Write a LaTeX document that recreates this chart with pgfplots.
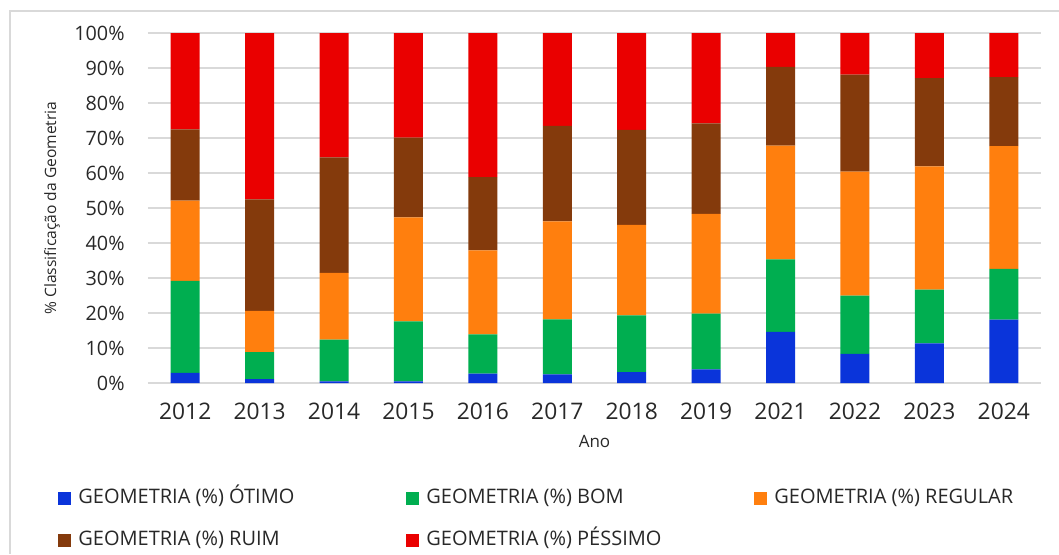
\documentclass[border=0pt]{standalone}
\usepackage{fontspec}
\setmainfont{Open Sans}
\usepackage{pgfplots}
\usepackage{pgfplotstable}
\pgfplotsset{compat=1.18}

\definecolor{cOtimo}{RGB}{10,52,218}
\definecolor{cBom}{RGB}{0,174,80}
\definecolor{cRegular}{RGB}{255,127,14}
\definecolor{cRuim}{RGB}{132,58,12}
\definecolor{cPessimo}{RGB}{234,0,0}
\definecolor{gridc}{RGB}{217,217,217}
\definecolor{txt}{RGB}{40,40,40}

% ano (indice) e percentuais por classe
\pgfplotstableread{
x otimo bom regular ruim pessimo
0  2.9 26.3 22.9 20.4 27.5
1  1.1  7.7 11.8 31.9 47.5
2  0.5 11.9 19.1 33.0 35.5
3  0.5 17.1 29.7 22.8 29.9
4  2.7 11.2 24.0 20.9 41.2
5  2.5 15.7 28.0 27.3 26.5
6  3.1 16.2 25.9 27.1 27.7
7  3.9 15.9 28.5 25.9 25.8
8 14.6 20.7 32.5 22.5  9.7
9  8.3 16.7 35.4 27.7 11.9
10 11.3 15.4 35.2 25.2 12.9
11 18.1 14.5 35.1 19.7 12.6
}\dados

\newcommand{\lbox}[1]{\makebox[164pt][l]{#1}}

\begin{document}
\begin{tikzpicture}
\begin{axis}[
    at={(74pt,85.5pt)}, anchor=south west,
    width=446.5pt, height=175pt, scale only axis,
    ybar stacked, bar width=14.5pt,
    xmin=-0.5, xmax=11.5,
    ymin=0, ymax=100,
    xtick=data,
    xticklabels={2012,2013,2014,2015,2016,2017,2018,2019,2021,2022,2023,2024},
    ytick={0,10,...,100},
    yticklabel={\pgfmathprintnumber{\tick}\%},
    /pgf/number format/assume math mode=true,
    ymajorgrids, grid style={gridc, line width=0.6pt},
    axis x line*=bottom, axis y line*=left,
    x axis line style={gridc, line width=0.6pt},
    y axis line style={draw=none},
    major tick length=0pt,
    tick label style={text=txt},
    xticklabel style={font=\fontsize{11.4}{12}\selectfont, anchor=center, yshift=-14pt},
    yticklabel style={font=\fontsize{9.9}{11}\selectfont, anchor=east, inner sep=0pt, xshift=-11.5pt},
    xlabel={Ano},
    ylabel={\% Classificação da Geometria},
    every axis x label/.style={at={(axis description cs:0.5,-0.1657)}, anchor=center,
        font=\fontsize{8.5}{10}\selectfont, text=txt},
    every axis y label/.style={at={(axis description cs:-0.1075,0.5)}, anchor=center, rotate=90,
        font=\fontsize{7.8}{9}\selectfont, text=txt},
    legend columns=3,
    legend cell align=left,
    legend image code/.code={\fill[#1] (0pt,-3.25pt) rectangle (6.5pt,3.25pt);},
    legend style={at={(axis description cs:-0.1008,-0.3026)}, anchor=north west,
        draw=none, fill=none, inner sep=0pt,
        font=\fontsize{10}{11}\selectfont, text=txt,
        nodes={inner sep=0pt, text height=7pt, text depth=2pt},
        row sep=12pt,
        /tikz/every odd column/.append style={column sep=3.5pt}},
]
\addplot[fill=cOtimo, draw=none] table[x=x, y=otimo] {\dados};
\addlegendentry{\lbox{GEOMETRIA (\%) ÓTIMO}}
\addplot[fill=cBom, draw=none] table[x=x, y=bom] {\dados};
\addlegendentry{\lbox{GEOMETRIA (\%) BOM}}
\addplot[fill=cRegular, draw=none] table[x=x, y=regular] {\dados};
\addlegendentry{\lbox{GEOMETRIA (\%) REGULAR}}
\addplot[fill=cRuim, draw=none] table[x=x, y=ruim] {\dados};
\addlegendentry{\lbox{GEOMETRIA (\%) RUIM}}
\addplot[fill=cPessimo, draw=none] table[x=x, y=pessimo] {\dados};
\addlegendentry{\lbox{GEOMETRIA (\%) PÉSSIMO}}
\end{axis}
\draw[gridc, line width=0.6pt] (5pt,0pt) -- (5pt,271.5pt) -- (529.5pt,271.5pt);
\pgfresetboundingbox
\useasboundingbox (0pt,0pt) rectangle (529.5pt,277pt);
\end{tikzpicture}
\end{document}
